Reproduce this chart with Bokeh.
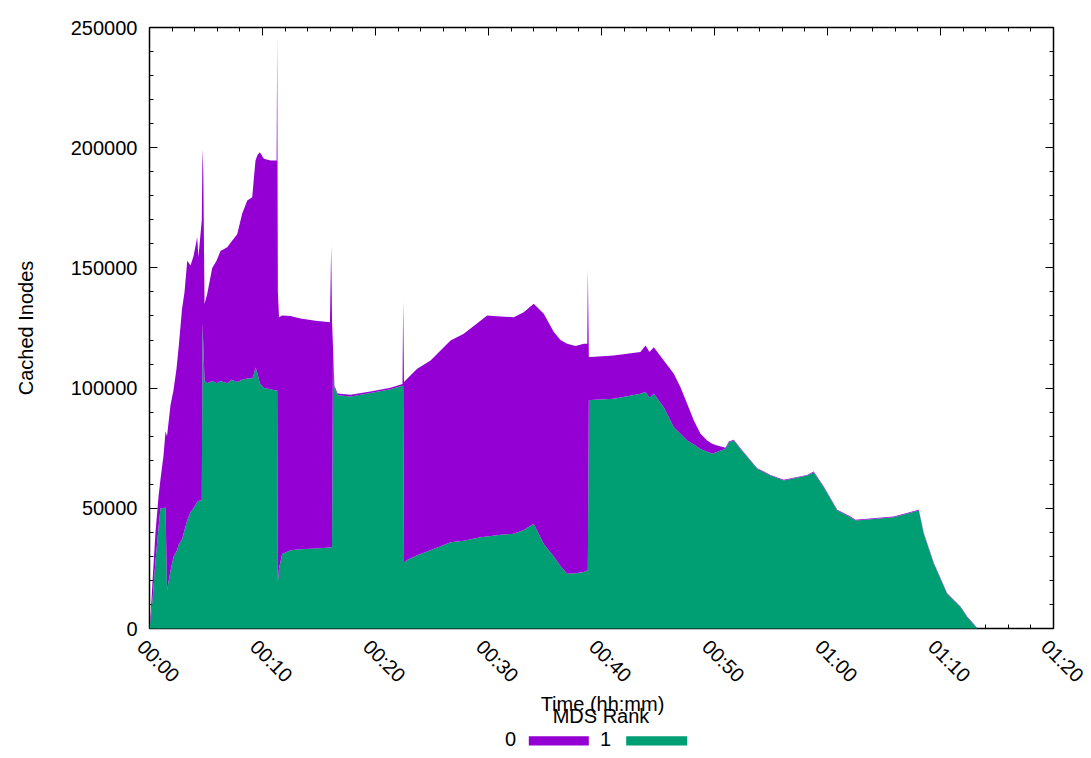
import math
from bokeh.plotting import figure
from bokeh.models import ColumnDataSource, FixedTicker, LinearAxis, Range1d
from bokeh.core.properties import value
from bokeh.embed import file_html
from bokeh.resources import INLINE

# ---- data (time in minutes since start, cached inodes per MDS rank) ----
minutes = [0.00, 0.13, 0.27, 0.53, 0.80, 0.97, 1.24, 1.42, 1.55, 1.86, 2.12, 2.39, 2.60, 2.88,
           3.10, 3.34, 3.63, 3.90, 4.22, 4.33, 4.63, 4.69, 4.76, 4.87, 5.10, 5.55, 5.93, 6.28,
           6.88, 7.26, 7.76, 8.20, 8.65, 9.09, 9.25, 9.38, 9.56, 9.76, 10.12, 10.71, 11.15,
           11.25, 11.30, 11.36, 11.46, 11.74, 12.48, 13.36, 14.69, 15.97, 16.08, 16.15, 16.24,
           16.37, 16.64, 17.79, 19.56, 21.33, 22.39, 22.45, 22.52, 22.80, 23.69, 24.87, 26.64,
           27.81, 29.29, 29.88, 31.06, 32.24, 33.12, 34.00, 34.89, 35.78, 36.37, 36.96, 37.70,
           38.43, 38.74, 38.79, 38.88, 39.03, 41.09, 43.45, 43.89, 44.25, 44.63, 45.51, 46.40,
           46.99, 47.58, 48.17, 48.76, 49.35, 49.79, 50.24, 50.82, 50.97, 51.27, 51.71, 52.30,
           53.78, 54.96, 56.13, 58.20, 58.78, 59.67, 60.86, 62.04, 62.48, 65.87, 68.08, 68.52,
           69.41, 70.59, 71.77, 72.36, 73.10, 73.27]

rank1 = [0, 5000, 12000, 28000, 42000, 50000, 50000, 50300, 15800, 24000, 29700, 32000, 35000,
         37000, 41000, 45000, 48500, 50000, 52600, 53000, 53500, 127000, 118000, 103000, 102000,
         103000, 102000, 103000, 102000, 103500, 102500, 103500, 104000, 104000, 106000, 108600,
         106000, 102000, 100000, 99500, 99000, 99000, 99000, 19000, 25000, 31000, 32500, 33000,
         33300, 33700, 33700, 34000, 115000, 100000, 97000, 96500, 98000, 99500, 101000, 101000,
         27500, 28500, 30500, 32500, 35900, 36500, 38000, 38300, 39000, 39400, 41000, 43600,
         35200, 30000, 26000, 22800, 23000, 23500, 24100, 24100, 94900, 95000, 95600, 97600,
         98500, 96000, 97600, 92000, 83700, 81000, 78200, 76500, 74700, 73500, 72700, 73500,
         74500, 74700, 77500, 78200, 74700, 66400, 63600, 61600, 63600, 65000, 58800, 49100,
         46300, 44900, 46300, 49100, 39400, 26900, 14400, 8900, 4700, 800, 0]

rank0 = [0, 3000, 8000, 12000, 13000, 12000, 22000, 31700, 64200, 69000, 69300, 76000, 83000,
         96000, 99000, 108000, 102500, 105000, 110200, 101500, 116500, 72500, 72000, 32000,
         37000, 47000, 51000, 54000, 56600, 57500, 61500, 69000, 74000, 75400, 82000, 86100,
         91000, 96100, 95400, 95200, 95700, 95700, 147000, 121000, 104500, 99200, 97500, 96000,
         94700, 93700, 125600, 94000, 2000, 1000, 800, 700, 600, 600, 700, 35500, 75000, 75400,
         77500, 79000, 83900, 86100, 90000, 91900, 90800, 90100, 90600, 91500, 95700, 93300,
         94000, 95600, 94500, 94900, 94300, 125700, 18000, 17900, 18000, 17400, 19200, 19000,
         19400, 19500, 22300, 19400, 15300, 10000, 6300, 4700, 4100, 2600, 900, 500, 300, 300,
         300, 300, 300, 300, 300, 300, 300, 300, 300, 300, 300, 300, 300, 300, 300, 300, 300,
         200, 0]

series_names = ["0", "1"]
series_colors = ["#9400d3", "#009e73"]

x_ticks = [0, 10, 20, 30, 40, 50, 60, 70, 80]
x_tick_labels = ["00:00", "00:10", "00:20", "00:30", "00:40", "00:50", "01:00", "01:10", "01:20"]
x_minor = list(range(0, 81, 2))
y_ticks = [0, 50000, 100000, 150000, 200000, 250000]
y_tick_labels = ["0", "50000", "100000", "150000", "200000", "250000"]
y_minor = list(range(0, 250001, 10000))

x_title = "Time (hh:mm)"
y_title = "Cached Inodes"
legend_title = "MDS Rank"

FONT = "Liberation Sans"
FS = "20px"

# ---- geometry: the plot box is 904 x 601 px, its lower-left corner at (149, 628) ----
X_MIN, X_MAX = 0, 80
Y_MIN, Y_MAX = 0, 250000
BOX_L, BOX_B, BOX_W, BOX_H = 149, 628, 904, 601
CW, CH = 1090, 757
PX_X = BOX_W / (X_MAX - X_MIN)          # px per minute
PX_Y = BOX_H / (Y_MAX - Y_MIN)          # px per inode

def dx(px):   # page x (px) -> minutes
    return X_MIN + (px - BOX_L) / PX_X

def dy(py):   # page y (px, from top) -> inodes
    return Y_MIN + (BOX_B - py) / PX_Y

src = ColumnDataSource(dict(t=minutes, r0=rank0, r1=rank1))

p = figure(frame_width=CW, frame_height=CH, title=None,
           x_range=Range1d(dx(0), dx(CW)), y_range=Range1d(dy(CH), dy(0)),
           x_axis_type=None, y_axis_type=None,
           output_backend="svg", toolbar_location=None, min_border=0,
           background_fill_color="white", border_fill_color="white")
p.xgrid.visible = False
p.ygrid.visible = False
p.outline_line_color = None

areas = p.varea_stack(stackers=["r1", "r0"], x="t",
                      color=[series_colors[1], series_colors[0]], source=src)
for r in areas:
    r.level = "annotation"

xt = FixedTicker(ticks=x_ticks, minor_ticks=x_minor)
yt = FixedTicker(ticks=y_ticks, minor_ticks=y_minor)

def make_axis(ticker, loc, bounds, labels=None):
    ax = LinearAxis(ticker=ticker, fixed_location=loc, bounds=bounds)
    ax.major_tick_in = 8
    ax.major_tick_out = 0
    ax.minor_tick_in = 4
    ax.minor_tick_out = 0
    ax.major_tick_line_color = "black"
    ax.minor_tick_line_color = "black"
    ax.axis_line_color = "black"
    ax.axis_line_width = 1.5
    if labels is not None:
        ax.major_label_overrides = labels
        ax.major_label_text_font = FONT
        ax.major_label_text_font_size = FS
        ax.major_label_text_color = "black"
        ax.major_label_standoff = 12
    else:
        ax.major_label_text_font_size = "0px"
        ax.major_label_text_alpha = 0
    return ax

p.add_layout(make_axis(yt, X_MIN, (Y_MIN, Y_MAX), dict(zip(y_ticks, y_tick_labels))), "left")
p.add_layout(make_axis(yt, X_MAX, (Y_MIN, Y_MAX)), "right")
p.add_layout(make_axis(xt, Y_MIN, (X_MIN, X_MAX)), "below")
p.add_layout(make_axis(xt, Y_MAX, (X_MIN, X_MAX)), "above")

def txt(xs, ys, texts, size=FS, align="center", angle=0.0):
    p.text(x=xs, y=ys, text=texts, angle=angle, text_align=align,
           text_baseline="alphabetic", text_font=value(FONT),
           text_font_size=value(size), text_color="black")

# x tick labels, rotated -45 degrees, hanging below the ticks
txt([t + dx(BOX_L - 8.7) for t in x_ticks], [dy(642.7)] * len(x_ticks), x_tick_labels,
    align="left", angle=-math.pi / 4)
# axis titles
txt([dx(25.5)], [(Y_MIN + Y_MAX) / 2], [y_title], angle=math.pi / 2)
txt([dx(602)], [dy(703.2)], [x_title])
# key
txt([dx(600.5)], [dy(715.8)], [legend_title])
txt([dx(510), dx(605)], [dy(738.8)] * 2, series_names)
p.quad(left=[dx(528.3), dx(625.7)], right=[dx(588.3), dx(686.7)],
       bottom=[dy(745)] * 2, top=[dy(735.7)] * 2, fill_color=series_colors, line_color=None)

open("out.html", "w").write(file_html(p, INLINE))
